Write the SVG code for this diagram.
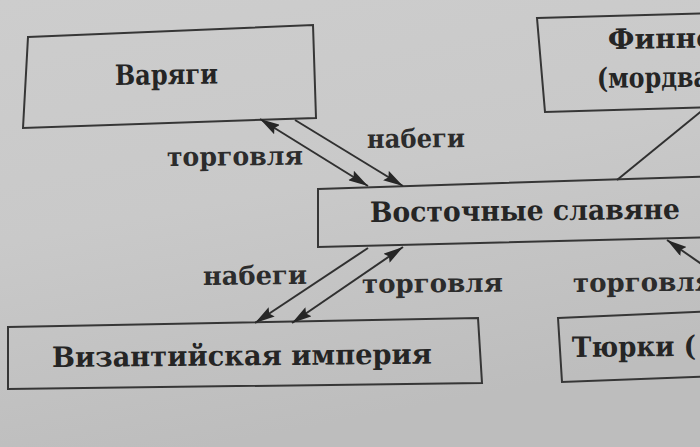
<svg xmlns="http://www.w3.org/2000/svg" width="700" height="447" viewBox="0 0 700 447">
  <defs>
    <linearGradient id="paper" x1="0" y1="0" x2="0.3" y2="1">
      <stop offset="0" stop-color="#cdcdcd"/>
      <stop offset="0.5" stop-color="#c9c9c9"/>
      <stop offset="1" stop-color="#bdbdbd"/>
    </linearGradient>
    <marker id="ah" viewBox="0 0 20 11" refX="20" refY="5.5" markerWidth="20" markerHeight="11" markerUnits="userSpaceOnUse" orient="auto-start-reverse">
      <path d="M0,0 L20,5.5 L0,11 L3,5.5 z" fill="#262626"/>
    </marker>
    <style>
      .box { fill: none; stroke: #363636; stroke-width: 2; stroke-linejoin: miter; }
      .t { font-family: "DejaVu Serif", "Liberation Serif", serif; font-weight: bold; fill: #252525; }
      .bt { font-size: 28px; }
      .lb { font-size: 26px; fill: #2c2c2c; }
      .ln { fill: none; stroke: #303030; stroke-width: 2; }
      .a2 { marker-start: url(#ah); marker-end: url(#ah); }
      .a1 { marker-end: url(#ah); }
      .a0 { marker-start: url(#ah); }
    </style>
  </defs>
  <rect x="0" y="0" width="700" height="447" fill="url(#paper)"/>

  <g id="varyagi">
    <polygon class="box" points="28,37 313,25 316,118 23,128"/>
    <text class="t bt" x="115" y="85" textLength="103" lengthAdjust="spacingAndGlyphs" transform="rotate(-0.8 115 85)">Варяги</text>
  </g>

  <g id="finno">
    <polygon class="box" points="537,18 720,13 720,107 545,112"/>
    <text class="t bt" x="608" y="49" textLength="107" lengthAdjust="spacingAndGlyphs" transform="rotate(-0.8 608 49)">Финно</text>
    <text class="t bt" x="597" y="88" textLength="112" lengthAdjust="spacingAndGlyphs" transform="rotate(-0.8 597 88)">(мордва</text>
  </g>

  <g id="vostochnye">
    <polygon class="box" points="318,189 720,176 720,237 318,247"/>
    <text class="t bt" x="370" y="222" textLength="310" lengthAdjust="spacingAndGlyphs" transform="rotate(-0.6 370 222)">Восточные славяне</text>
  </g>

  <g id="vizantiya">
    <polygon class="box" points="8,327 478,318 482,383 8,389"/>
    <text class="t bt" x="52" y="367" textLength="380" lengthAdjust="spacingAndGlyphs" transform="rotate(-0.5 52 367)">Византийская империя</text>
  </g>

  <g id="tyurki">
    <polygon class="box" points="558,318 720,311 720,376 562,382"/>
    <text class="t bt" x="572" y="357" textLength="124" lengthAdjust="spacingAndGlyphs" transform="rotate(-0.6 572 357)">Тюрки (</text>
  </g>

  <g id="connectors">
    <line class="ln a2" x1="260" y1="119" x2="368" y2="186"/>
    <line class="ln a1" x1="295" y1="120" x2="403" y2="186"/>
    <line class="ln a1" x1="368" y1="248" x2="255" y2="323"/>
    <line class="ln a2" x1="403" y1="247" x2="292" y2="323"/>
    <line class="ln" x1="720" y1="96" x2="617" y2="180"/>
    <line class="ln a0" x1="667" y1="240" x2="730" y2="284"/>
  </g>

  <g id="labels">
    <text class="t lb" x="167" y="166" textLength="136" lengthAdjust="spacingAndGlyphs" transform="rotate(-0.6 167 166)">торговля</text>
    <text class="t lb" x="367" y="148" textLength="98" lengthAdjust="spacingAndGlyphs" transform="rotate(-0.6 367 148)">набеги</text>
    <text class="t lb" x="203" y="285" textLength="104" lengthAdjust="spacingAndGlyphs" transform="rotate(-0.6 203 285)">набеги</text>
    <text class="t lb" x="362" y="293" textLength="141" lengthAdjust="spacingAndGlyphs" transform="rotate(-0.6 362 293)">торговля</text>
    <text class="t lb" x="573" y="292" textLength="141" lengthAdjust="spacingAndGlyphs" transform="rotate(-0.6 573 292)">торговля</text>
  </g>
</svg>
